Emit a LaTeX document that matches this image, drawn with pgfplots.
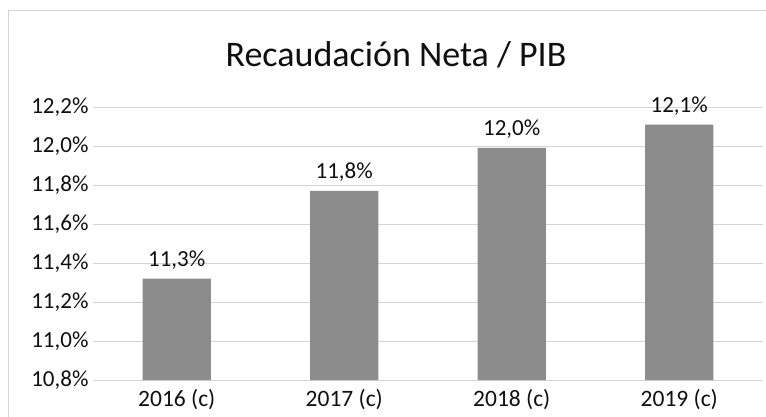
\documentclass[border=0pt]{standalone}
\usepackage{fontspec}
\setmainfont{Carlito}
\usepackage{pgfplots}
\pgfplotsset{compat=1.18}
\definecolor{barc}{RGB}{140,140,140}
\definecolor{gridc}{RGB}{212,212,212}
\definecolor{txt}{RGB}{15,15,15}
\begin{document}
\begin{tikzpicture}
\path[use as bounding box] (-93pt,-36pt) rectangle (673pt,380pt);
\draw[gridc, line width=0.6pt] (-85pt,-40pt) -- (-85pt,370pt) -- (680pt,370pt);
\begin{axis}[
  at={(0pt,0pt)}, anchor=south west,
  scale only axis, width=670pt, height=273pt,
  ybar, bar width=0.406,
  xmin=-0.5, xmax=3.5, ymin=10.8, ymax=12.2,
  ytick={10.8,11.0,11.2,11.4,11.6,11.8,12.0,12.2},
  xtick={0,1,2,3}, xticklabels={2016 (c),2017 (c),2018 (c),2019 (c)},
  axis line style={draw=none}, major tick length=0pt,
  ymajorgrids, grid style={gridc, line width=0.8pt},
  /pgf/number format/assume math mode=true,
  yticklabel={\pgfmathprintnumber[fixed,fixed zerofill,precision=1,use comma]{\tick}\%},
  yticklabel style={font=\fontsize{23}{27}\selectfont, text=txt, anchor=east, xshift=-1pt},
  xticklabel style={font=\fontsize{23.5}{27}\selectfont, text=txt, anchor=base, yshift=-26.7pt},
  nodes near coords={\pgfmathprintnumber[fixed,fixed zerofill,precision=1,use comma]{\pgfplotspointmeta}\%},
  nodes near coords style={font=\fontsize{23}{27}\selectfont, text=txt, anchor=base, yshift=12pt},
]
\addplot[fill=barc, draw=none] coordinates {(0,11.32) (1,11.77) (2,11.99) (3,12.11)};
\end{axis}
\node[anchor=base, text=txt, font=\fontsize{36}{42}\selectfont] at (303pt,313pt) {Recaudación Neta / PIB};
\end{tikzpicture}
\end{document}
